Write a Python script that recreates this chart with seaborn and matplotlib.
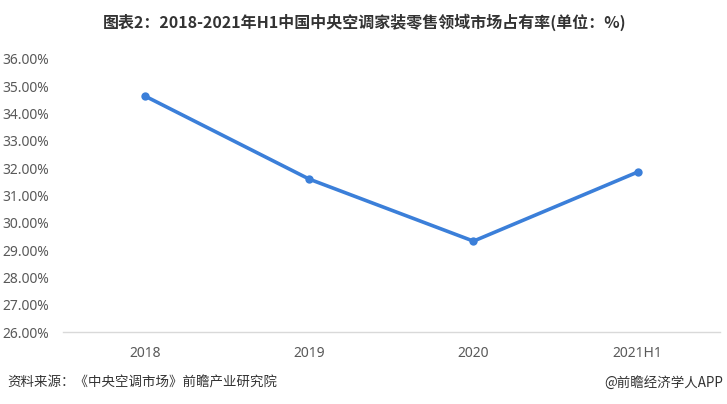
# 2018-2021H1 central AC home-retail market share line chart
import matplotlib
matplotlib.use("Agg")
import matplotlib.pyplot as plt
import pandas as pd
import seaborn as sns
from matplotlib.ticker import FuncFormatter, MultipleLocator

years = ["2018", "2019", "2020", "2021H1"]
share = [34.64, 31.60, 29.33, 31.86]

df = pd.DataFrame({"year": years, "share": share})

sns.set_theme(style="white")
plt.rcParams["font.family"] = ["Noto Sans CJK SC", "DejaVu Sans"]

fig = plt.figure(figsize=(7.27, 4.04), dpi=100)
ax = fig.add_axes([0.0867, 0.178, 0.9033, 0.676])

sns.lineplot(x="year", y="share", data=df, ax=ax, color="#3b7fd9",
             linewidth=2.6, marker="o", markersize=6, markeredgewidth=0,
             sort=False)

ax.set_xlim(-0.5, 3.5)
ax.set_ylim(26, 36)
ax.yaxis.set_major_locator(MultipleLocator(1))
ax.yaxis.set_major_formatter(FuncFormatter(lambda v, p: "{:.2f}%".format(v)))
ax.set_xlabel("")
ax.set_ylabel("")

for s in ["top", "right", "left"]:
    ax.spines[s].set_visible(False)
ax.spines["bottom"].set_color("#d9d9d9")
ax.spines["bottom"].set_linewidth(1)
ax.tick_params(axis="both", length=0, labelsize=10, labelcolor="#595959")
ax.tick_params(axis="y", pad=10)
ax.tick_params(axis="x", pad=10)
for lab in ax.get_yticklabels() + ax.get_xticklabels():
    lab.set_family(["Noto Sans", "DejaVu Sans"])

fig.text(0.502, 0.945, "图表2：2018-2021年H1中国中央空调家装零售领域市场占有率(单位：%)",
         ha="center", va="center", fontsize=11.5, fontweight="bold", color="#333333")
fig.text(0.01, 0.052, "资料来源：《中央空调市场》前瞻产业研究院",
         ha="left", va="center", fontsize=9.7, color="#333333")
fig.text(0.995, 0.052, "@前瞻经济学人APP",
         ha="right", va="center", fontsize=9.7, color="#333333")

plt.savefig("out.png", dpi=100)
